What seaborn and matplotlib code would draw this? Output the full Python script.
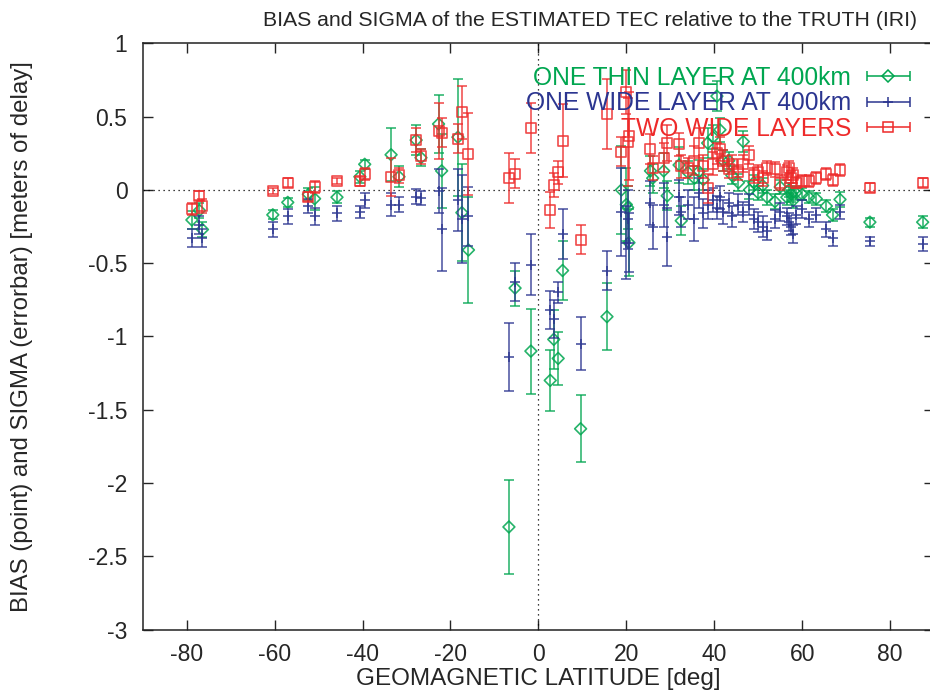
import numpy as np
import pandas as pd
import seaborn as sns
import matplotlib
matplotlib.use("Agg")
import matplotlib.pyplot as plt
from matplotlib.container import ErrorbarContainer
from matplotlib.legend_handler import HandlerErrorbar
from matplotlib.ticker import FuncFormatter

# station latitudes (geomagnetic, deg)
lat = [-78.8, -77.1, -76.4, -60.4, -57.0, -52.3, -50.9, -45.8, -40.6, -39.5,
       -33.5, -31.7, -27.8, -26.7, -22.7, -22.0, -18.3, -17.4, -15.9, -6.7,
       -5.3, -1.7, 2.7, 3.5, 4.5, 5.5, 9.6, 15.6, 18.9, 20.0,
       20.3, 20.6, 25.5, 26.0, 28.5, 29.3, 32.0, 32.5, 34.0, 35.5,
       36.5, 37.5, 38.5, 39.7, 40.6, 41.3, 42.0, 43.3, 44.0, 45.5,
       46.6, 48.0, 49.0, 50.0, 51.0, 52.0, 53.8, 55.0, 56.5, 57.0,
       57.5, 58.0, 58.5, 60.0, 61.5, 63.2, 65.5, 66.9, 68.6, 75.4,
       87.4]

# one thin layer at 400km
thin_bias = [-0.205, -0.14, -0.27, -0.17, -0.085, -0.03, -0.06, -0.05, 0.09, 0.175,
             0.24, 0.09, 0.34, 0.22, 0.45, 0.13, 0.36, -0.155, -0.41, -2.30,
             -0.67, -1.10, -1.30, -1.02, -1.15, -0.55, -1.63, -0.865, 0.0, -0.10,
             -0.12, -0.36, 0.13, 0.08, 0.13, -0.04, 0.17, -0.21, 0.12, 0.08,
             0.125, 0.07, 0.32, 0.36, 0.64, 0.41, 0.20, 0.20, 0.10, 0.05,
             0.33, 0.0, 0.05, -0.02, 0.03, -0.05, -0.08, 0.02, -0.05, 0.0,
             -0.03, -0.07, -0.02, -0.03, -0.05, -0.06, -0.11, -0.17, -0.065, -0.22,
             -0.22]
thin_sigma = [0.06, 0.05, 0.05, 0.03, 0.03, 0.04, 0.08, 0.04, 0.04, 0.03,
              0.18, 0.07, 0.10, 0.06, 0.20, 0.25, 0.40, 0.33, 0.36, 0.32,
              0.12, 0.29, 0.21, 0.20, 0.18, 0.20, 0.23, 0.23, 0.30, 0.25,
              0.15, 0.23, 0.10, 0.10, 0.12, 0.10, 0.12, 0.10, 0.08, 0.08,
              0.08, 0.07, 0.10, 0.08, 0.10, 0.08, 0.07, 0.06, 0.06, 0.06,
              0.07, 0.06, 0.05, 0.05, 0.05, 0.05, 0.05, 0.05, 0.05, 0.05,
              0.05, 0.05, 0.05, 0.04, 0.04, 0.04, 0.04, 0.04, 0.05, 0.03,
              0.04]

# one wide layer at 400km
wide_bias = [-0.33, -0.24, -0.33, -0.27, -0.18, -0.11, -0.18, -0.16, -0.15, -0.07,
             -0.10, -0.10, -0.045, -0.055, -0.01, -0.27, -0.07, -0.20, -0.18, -1.14,
             -0.63, -0.51, -0.82, -0.88, -0.70, -0.30, -1.05, -0.55, -0.15, -0.36,
             -0.20, -0.36, -0.09, -0.25, -0.10, -0.32, -0.05, -0.15, -0.10, -0.20,
             -0.02, -0.16, -0.10, -0.07, -0.12, -0.05, -0.15, -0.09, -0.18, -0.10,
             -0.15, -0.10, -0.20, -0.22, -0.25, -0.28, -0.20, -0.15, -0.18, -0.22,
             -0.25, -0.30, -0.17, -0.13, -0.20, -0.17, -0.27, -0.33, -0.15, -0.35,
             -0.37]
wide_sigma = [0.06, 0.06, 0.06, 0.05, 0.05, 0.05, 0.06, 0.05, 0.04, 0.05,
              0.08, 0.05, 0.05, 0.05, 0.15, 0.28, 0.21, 0.30, 0.20, 0.23,
              0.13, 0.21, 0.13, 0.13, 0.07, 0.17, 0.18, 0.13, 0.30, 0.25,
              0.20, 0.20, 0.15, 0.15, 0.15, 0.20, 0.12, 0.10, 0.10, 0.15,
              0.10, 0.10, 0.10, 0.08, 0.08, 0.08, 0.08, 0.07, 0.07, 0.07,
              0.07, 0.07, 0.07, 0.07, 0.07, 0.06, 0.06, 0.06, 0.06, 0.06,
              0.06, 0.06, 0.06, 0.06, 0.05, 0.05, 0.05, 0.05, 0.05, 0.03,
              0.05]

# two wide layers
two_bias = [-0.13, -0.04, -0.11, -0.01, 0.05, -0.045, 0.02, 0.06, 0.06, 0.11,
            0.09, 0.10, 0.34, 0.23, 0.40, 0.39, 0.35, 0.53, 0.245, 0.08,
            0.11, 0.425, -0.137, 0.034, 0.12, 0.335, -0.34, 0.52, 0.26, 0.67,
            0.33, 0.37, 0.28, 0.15, 0.22, 0.32, 0.31, 0.16, 0.15, 0.20,
            0.32, 0.16, 0.01, 0.18, 0.25, 0.28, 0.20, 0.14, 0.18, 0.12,
            0.18, 0.24, 0.10, 0.12, 0.08, 0.15, 0.14, 0.05, 0.12, 0.15,
            0.08, 0.10, 0.05, 0.06, 0.06, 0.08, 0.107, 0.07, 0.135, 0.016,
            0.05]
two_sigma = [0.04, 0.03, 0.05, 0.02, 0.03, 0.03, 0.04, 0.02, 0.03, 0.04,
             0.13, 0.05, 0.08, 0.05, 0.19, 0.10, 0.10, 0.18, 0.28, 0.17,
             0.10, 0.17, 0.12, 0.08, 0.08, 0.25, 0.10, 0.24, 0.10, 0.15,
             0.30, 0.30, 0.10, 0.08, 0.10, 0.12, 0.08, 0.08, 0.07, 0.10,
             0.10, 0.08, 0.10, 0.08, 0.07, 0.08, 0.07, 0.06, 0.06, 0.05,
             0.06, 0.06, 0.05, 0.05, 0.05, 0.05, 0.05, 0.05, 0.05, 0.05,
             0.05, 0.05, 0.04, 0.04, 0.04, 0.04, 0.04, 0.04, 0.04, 0.03,
             0.03]

labels = ["ONE THIN LAYER AT 400km", "ONE WIDE LAYER AT 400km", "TWO WIDE LAYERS"]
colors = ["#00a650", "#2b3590", "#ee2a2a"]
markers = ["D", "+", "s"]
msizes = [6.0, 6.5, 7.2]

sns.set_style("ticks")
plt.rcParams["font.family"] = ["Liberation Sans", "DejaVu Sans"]
plt.rcParams["axes.unicode_minus"] = False

fig = plt.figure(figsize=(9.3, 6.92), dpi=100)
ax = fig.add_axes([0.1534, 0.0903, 0.851, 0.847])

df = pd.DataFrame({"lat": lat * 3,
                   "bias": thin_bias + wide_bias + two_bias,
                   "sigma": thin_sigma + wide_sigma + two_sigma,
                   "model": [labels[0]] * len(lat) + [labels[1]] * len(lat) + [labels[2]] * len(lat)})

ax.axhline(0, color="black", lw=0.9, ls=(0, (1, 3)), zorder=1)
ax.axvline(0, color="black", lw=0.9, ls=(0, (1, 3)), zorder=1)

handles = []
for i, name in enumerate(labels):
    d = df[df["model"] == name]
    c = colors[i]
    ax.errorbar(d["lat"], d["bias"], yerr=d["sigma"], fmt="none", ecolor=c,
                elinewidth=1.2, capsize=3.5, capthick=1.2, alpha=0.8, zorder=2 + i)
    if markers[i] == "+":
        sns.scatterplot(data=d, x="lat", y="bias", marker="+", s=msizes[i] ** 2,
                        color=c, linewidth=1.2, alpha=0.85, ax=ax, zorder=2.5 + i, legend=False)
    else:
        sns.scatterplot(data=d, x="lat", y="bias", marker=markers[i], s=msizes[i] ** 2,
                        facecolor="none", edgecolor=c, linewidth=1.2, alpha=0.85, ax=ax,
                        zorder=2.5 + i, legend=False)
    # legend sample: horizontal bar with caps, gnuplot style
    h = ax.errorbar([np.nan], [np.nan], xerr=[1.0], fmt=markers[i], color=c,
                    mfc="none", mec=c, ms=msizes[i], mew=1.1, elinewidth=1.1,
                    capsize=3.5, capthick=1.1, label=name)
    handles.append(h)

ax.set_xlim(-90, 90)
ax.set_ylim(-3, 1)
ax.set_xticks(np.arange(-80, 81, 20))
ax.set_yticks(np.arange(-3, 1.01, 0.5))
ax.yaxis.set_major_formatter(FuncFormatter(lambda v, p: "%g" % v))
ax.tick_params(direction="in", length=7, width=1, labelsize=16.5, top=True, right=True)
ax.tick_params(axis="y", pad=11)
ax.tick_params(axis="x", pad=10)
for s in ax.spines.values():
    s.set_linewidth(1.1)
    s.set_color("#222222")

ax.set_xlabel("GEOMAGNETIC LATITUDE [deg]", fontsize=17.5)
ax.xaxis.label.set_verticalalignment("center")
ax.xaxis.set_label_coords(0.5, (629.5 - 679) / 586)
ax.set_ylabel("BIAS (point) and SIGMA (errorbar) [meters of delay]", fontsize=17.3)
ax.yaxis.label.set_verticalalignment("center")
ax.yaxis.set_label_coords((22 - 142.7) / 791.4, 0.5)
fig.text(590 / 930, 1 - 21 / 692, "BIAS and SIGMA of the ESTIMATED TEC relative to the TRUTH (IRI)",
         ha="center", va="center", fontsize=15.3)

leg = ax.legend(handles=handles, loc="upper right", frameon=False, markerfirst=False,
                fontsize=17.7, handlelength=1.75, handletextpad=0.65, labelspacing=0.06,
                borderpad=0, borderaxespad=0,
                bbox_to_anchor=(910 / 930, 1 - 66 / 692), bbox_transform=fig.transFigure,
                handler_map={ErrorbarContainer: HandlerErrorbar(xerr_size=0.875)})
for t, c in zip(leg.get_texts(), colors):
    t.set_color(c)

fig.savefig("out.png", dpi=100)
